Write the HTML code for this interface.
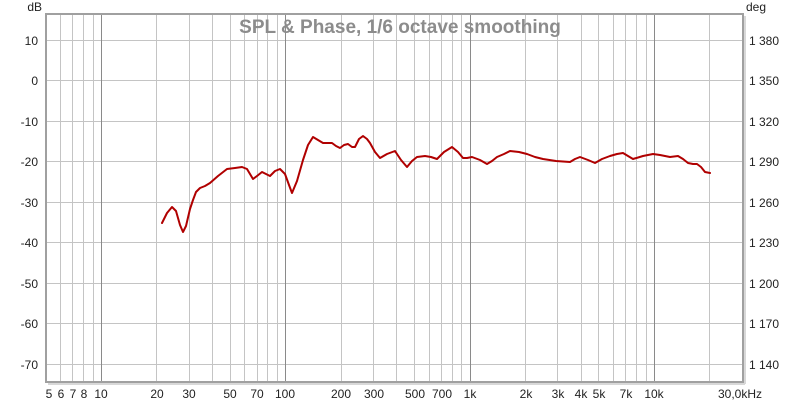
<!DOCTYPE html>
<html><head><meta charset="utf-8"><style>
html,body{margin:0;padding:0;background:#fff;}
svg{display:block;font-family:"Liberation Sans",Arial,sans-serif;}
</style></head><body>
<svg width="800" height="405" viewBox="0 0 800 405" xmlns="http://www.w3.org/2000/svg">
<rect width="800" height="405" fill="#fff"/>
<g stroke="#c4c4c4" stroke-width="1">
<line x1="46" x2="743" y1="40.5" y2="40.5"/>
<line x1="46" x2="743" y1="80.5" y2="80.5"/>
<line x1="46" x2="743" y1="121.5" y2="121.5"/>
<line x1="46" x2="743" y1="161.5" y2="161.5"/>
<line x1="46" x2="743" y1="202.5" y2="202.5"/>
<line x1="46" x2="743" y1="242.5" y2="242.5"/>
<line x1="46" x2="743" y1="283.5" y2="283.5"/>
<line x1="46" x2="743" y1="323.5" y2="323.5"/>
<line x1="46" x2="743" y1="364.5" y2="364.5"/>
<line x1="60.5" x2="60.5" y1="14" y2="382"/>
<line x1="72.5" x2="72.5" y1="14" y2="382"/>
<line x1="83.5" x2="83.5" y1="14" y2="382"/>
<line x1="93.5" x2="93.5" y1="14" y2="382"/>
<line x1="156.5" x2="156.5" y1="14" y2="382"/>
<line x1="189.5" x2="189.5" y1="14" y2="382"/>
<line x1="212.5" x2="212.5" y1="14" y2="382"/>
<line x1="230.5" x2="230.5" y1="14" y2="382"/>
<line x1="244.5" x2="244.5" y1="14" y2="382"/>
<line x1="257.5" x2="257.5" y1="14" y2="382"/>
<line x1="267.5" x2="267.5" y1="14" y2="382"/>
<line x1="277.5" x2="277.5" y1="14" y2="382"/>
<line x1="341.5" x2="341.5" y1="14" y2="382"/>
<line x1="373.5" x2="373.5" y1="14" y2="382"/>
<line x1="396.5" x2="396.5" y1="14" y2="382"/>
<line x1="414.5" x2="414.5" y1="14" y2="382"/>
<line x1="429.5" x2="429.5" y1="14" y2="382"/>
<line x1="441.5" x2="441.5" y1="14" y2="382"/>
<line x1="452.5" x2="452.5" y1="14" y2="382"/>
<line x1="461.5" x2="461.5" y1="14" y2="382"/>
<line x1="525.5" x2="525.5" y1="14" y2="382"/>
<line x1="557.5" x2="557.5" y1="14" y2="382"/>
<line x1="581.5" x2="581.5" y1="14" y2="382"/>
<line x1="598.5" x2="598.5" y1="14" y2="382"/>
<line x1="613.5" x2="613.5" y1="14" y2="382"/>
<line x1="625.5" x2="625.5" y1="14" y2="382"/>
<line x1="636.5" x2="636.5" y1="14" y2="382"/>
<line x1="646.5" x2="646.5" y1="14" y2="382"/>
<line x1="709.5" x2="709.5" y1="14" y2="382"/>
</g>
<g stroke="#8a8a8a" stroke-width="1">
<line x1="101.5" x2="101.5" y1="14" y2="382"/>
<line x1="285.5" x2="285.5" y1="14" y2="382"/>
<line x1="470.5" x2="470.5" y1="14" y2="382"/>
<line x1="654.5" x2="654.5" y1="14" y2="382"/>
</g>
<rect x="46" y="14" width="697" height="368" fill="none" stroke="#a0a0a0" stroke-width="2"/>
<line x1="745" y1="16" x2="745" y2="384" stroke="#d8d8d8" stroke-width="2"/>
<line x1="48" y1="384" x2="745" y2="384" stroke="#d8d8d8" stroke-width="2"/>
<text x="400" y="33" text-anchor="middle" font-size="19" font-weight="bold" fill="#8c8c8c">SPL &amp; Phase, 1/6 octave smoothing</text>
<g font-size="12" fill="#222" text-anchor="end">
<text x="42" y="11">dB</text>
<text x="38" y="45">10</text>
<text x="38" y="85">0</text>
<text x="38" y="126">-10</text>
<text x="38" y="166">-20</text>
<text x="38" y="207">-30</text>
<text x="38" y="247">-40</text>
<text x="38" y="288">-50</text>
<text x="38" y="328">-60</text>
<text x="38" y="369">-70</text>
</g>
<g font-size="12" fill="#222">
<text x="746" y="11">deg</text>
<text x="749" y="45">1 380</text>
<text x="749" y="85">1 350</text>
<text x="749" y="126">1 320</text>
<text x="749" y="166">1 290</text>
<text x="749" y="207">1 260</text>
<text x="749" y="247">1 230</text>
<text x="749" y="288">1 200</text>
<text x="749" y="328">1 170</text>
<text x="749" y="369">1 140</text>
</g>
<g font-size="12" fill="#222" text-anchor="middle">
<text x="49" y="398">5</text>
<text x="61" y="398">6</text>
<text x="73" y="398">7</text>
<text x="84" y="398">8</text>
<text x="101" y="398">10</text>
<text x="157" y="398">20</text>
<text x="189" y="398">30</text>
<text x="230" y="398">50</text>
<text x="257" y="398">70</text>
<text x="285" y="398">100</text>
<text x="341" y="398">200</text>
<text x="374" y="398">300</text>
<text x="415" y="398">500</text>
<text x="442" y="398">700</text>
<text x="470" y="398">1k</text>
<text x="526" y="398">2k</text>
<text x="558" y="398">3k</text>
<text x="581" y="398">4k</text>
<text x="599" y="398">5k</text>
<text x="626" y="398">7k</text>
<text x="654" y="398">10k</text>
<text x="740" y="398">30,0kHz</text>
</g>
<polyline fill="none" stroke="#b00000" stroke-width="2" stroke-linejoin="round" stroke-linecap="round" points="162,223 167,213 172,207 176,211 180,225 183,232 186,226 190,209 193,200 196,192 200,188 205,186 210,183 218,176 227,169 235,168 242,167 247,169 253,179 257,176 262,172 266,174 270,176 275,171 280,169 285,174 289,185 292,193 297,181 303,160 308,145 313,137 318,140 323,143 328,143 332,143 336,146 340,148 344,145 348,144 352,147 355,147 359,139 363,136 367,139 370,143 375,152 380,158 387,154 395,151 401,160 407,167 412,161 417,157 425,156 431,157 437,159 444,152 452,147 458,152 463,158 467,158 472,157 480,160 487,164 492,161 497,157 504,154 510,151 519,152 527,154 535,157 543,159 556,161 570,162 575,159 580,157 588,160 595,163 602,159 610,156 617,154 623,153 628,156 633,159 643,156 653,154 660,155 665,156 670,157 678,156 683,159 688,163 693,164 697,164 701,167 705,172 710,173"/>
</svg>
</body></html>
